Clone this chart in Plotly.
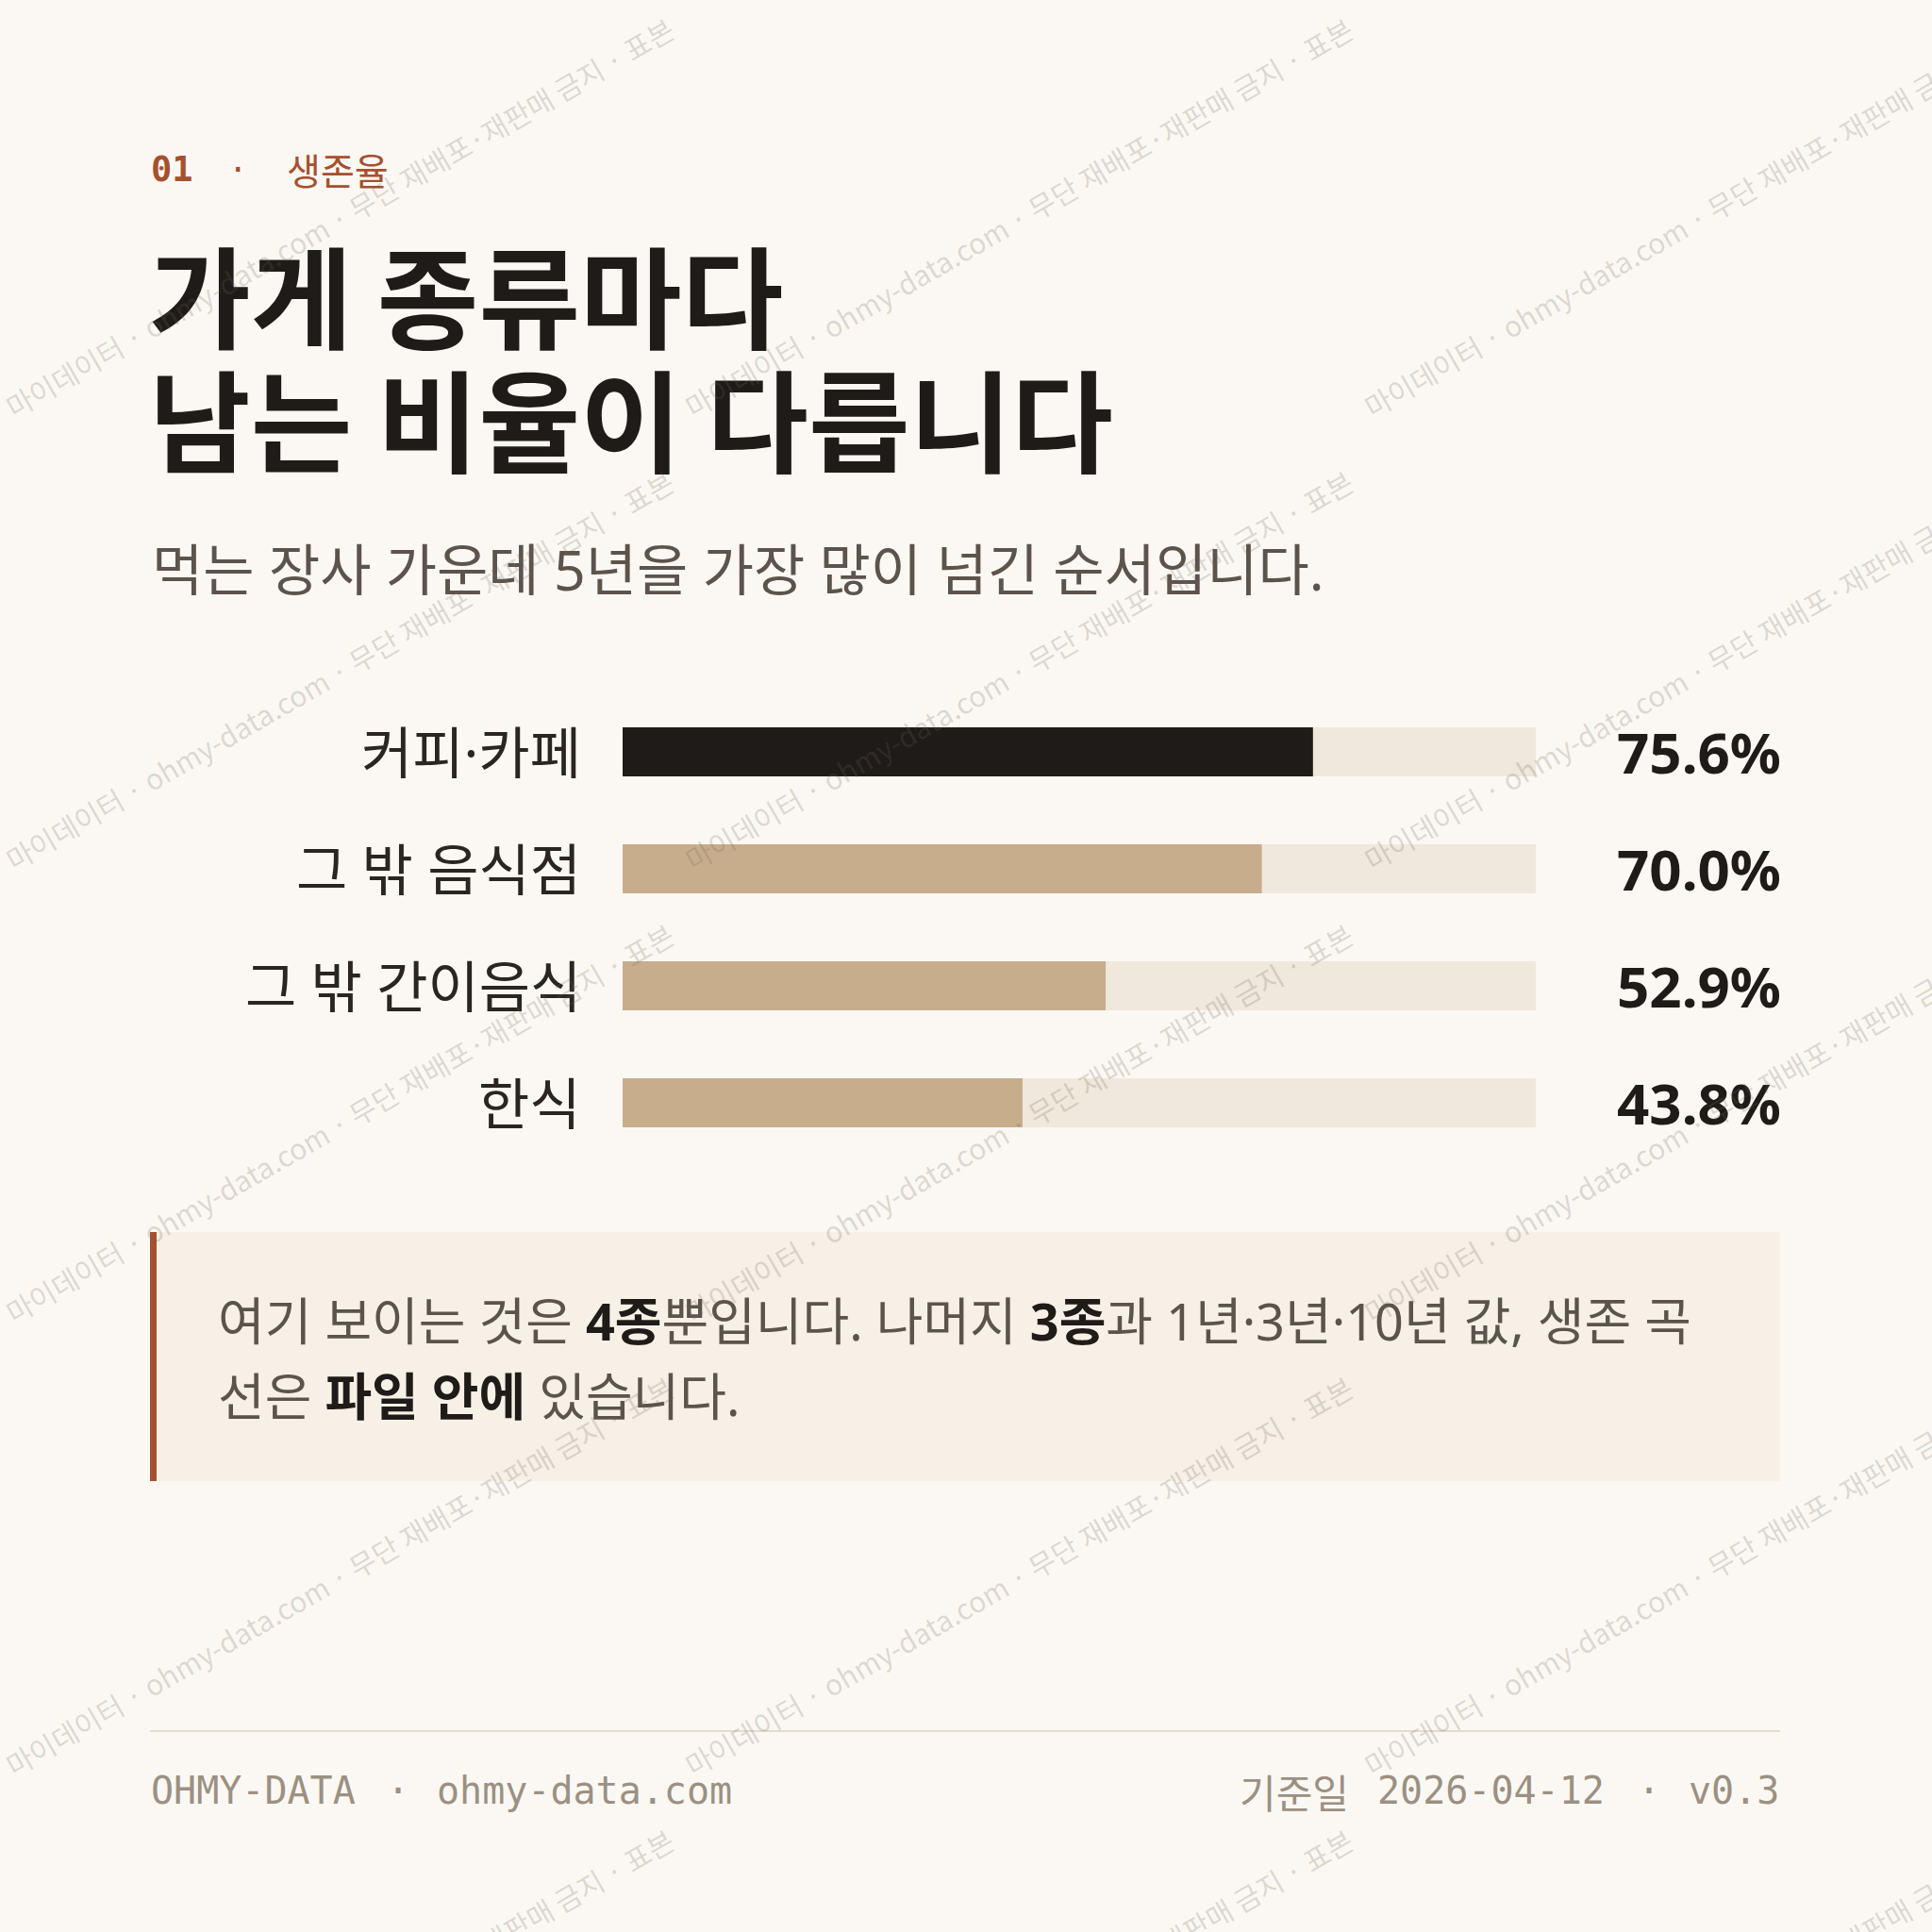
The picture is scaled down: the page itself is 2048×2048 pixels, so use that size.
import plotly.graph_objects as go

W = H = 2048

# ---------- data ----------
categories = ["커피·카페", "그 밖 음식점", "그 밖 간이음식", "한식"]
survival_5y = [75.6, 70.0, 52.9, 43.8]
scale_max = 100

eyebrow_num = "01"
eyebrow_txt = "생존율"
title_lines = ["가게 종류마다", "남는 비율이 다릅니다"]
subtitle = "먹는 장사 가운데 5년을 가장 많이 넘긴 순서입니다."
note_lines = [
    "여기 보이는 것은 {b}4종{e}뿐입니다. 나머지 {b}3종{e}과 1년·3년·10년 값, 생존 곡",
    "선은 {b}파일 안에{e} 있습니다.",
]
footer_left = ["OHMY-DATA", "·", "ohmy-data.com"]
footer_right = ["기준일", "2026-04-12", "·", "v0.3"]
watermark = "마이데이터 · ohmy-data.com · 무단 재배포·재판매 금지 · 표본"

# ---------- colours ----------
BG = "#fbf8f3"
DARK = "#1f1b18"
TAN = "#c8ad8c"
TRACK = "#f0e8dc"
RUST = "#a5502f"
SUB = "#5c544c"
MUTED = "#9b9082"
NOTE_BG = "#f6f0e6"
RULE = "#e3dccd"

KR = "Noto Sans CJK KR"
SANS = "Noto Sans, Noto Sans CJK KR"
MONO = "DejaVu Sans Mono, Noto Sans CJK KR"


def px(x):
    return x / W


def py(y):
    return 1 - y / H


fig = go.Figure()

# track + value bars
fig.add_bar(
    x=[scale_max] * len(categories), y=categories, orientation="h",
    marker=dict(color=TRACK, line_width=0), width=0.42, hoverinfo="skip",
)
fig.add_bar(
    x=survival_5y, y=categories, orientation="h",
    marker=dict(color=[DARK if i == 0 else TAN for i in range(len(categories))], line_width=0),
    width=0.42, hoverinfo="skip",
)

ann = []

# category labels and values
for c, v in zip(categories, survival_5y):
    ann.append(dict(x=px(618), y=c, xref="paper", yref="y", text=c,
                    xanchor="right", font=dict(family=SANS, size=59, color="#2a2521")))
    ann.append(dict(x=px(1890), y=c, xref="paper", yref="y", text=f"{v:.1f}%",
                    xanchor="right", font=dict(family=SANS, size=60, color=DARK, weight=700)))

# eyebrow
ann.append(dict(x=px(158), y=py(179), text=eyebrow_num, xanchor="left",
                font=dict(family=MONO, size=37, color=RUST, weight=700)))
ann.append(dict(x=px(252), y=py(179), text="·", xanchor="center",
                font=dict(family=MONO, size=34, color=RUST)))
ann.append(dict(x=px(302), y=py(179), text=eyebrow_txt, xanchor="left",
                font=dict(family=KR, size=39, color=RUST)))

# title
for i, t in enumerate(title_lines):
    ann.append(dict(x=px(156), y=py(310 + i * 131), text=t, xanchor="left",
                    font=dict(family=KR, size=117, color=DARK, weight=700)))

# subtitle
ann.append(dict(x=px(159), y=py(603), text=subtitle, xanchor="left",
                font=dict(family=SANS, size=59, color=SUB)))

# note
bold_open = f"<span style='color:{DARK}'><b>"
bold_close = "</b></span>"
for i, t in enumerate(note_lines):
    ann.append(dict(x=px(229), y=py(1400 + i * 80),
                    text=t.format(b=bold_open, e=bold_close), xanchor="left",
                    font=dict(family=SANS, size=54, color=SUB)))

# footer
foot_font = dict(family=MONO, size=40, color=MUTED)
ann.append(dict(x=px(158), y=py(1898), text=footer_left[0], xanchor="left", font=foot_font))
ann.append(dict(x=px(422), y=py(1898), text=footer_left[1], xanchor="center", font=foot_font))
ann.append(dict(x=px(461), y=py(1898), text=footer_left[2], xanchor="left", font=foot_font))
ann.append(dict(x=px(1432), y=py(1898), text=footer_right[0], xanchor="right",
                font=dict(family=KR, size=42, color=MUTED)))
ann.append(dict(x=px(1458), y=py(1898), text=footer_right[1], xanchor="left", font=foot_font))
ann.append(dict(x=px(1748), y=py(1898), text=footer_right[2], xanchor="center", font=foot_font))
ann.append(dict(x=px(1888), y=py(1898), text=footer_right[3], xanchor="right", font=foot_font))

# watermark tiles
for row in range(5):
    for col in range(3):
        ann.append(dict(x=px(360 + col * 720), y=py(230 + row * 480), text=watermark,
                        xanchor="center", textangle=-30,
                        font=dict(family=KR, size=30, color="rgba(110,100,90,0.22)")))

for a in ann:
    a.setdefault("xref", "paper")
    a.setdefault("yref", "paper")
    a.setdefault("showarrow", False)
    a.setdefault("yanchor", "middle")

shapes = [
    dict(type="rect", xref="paper", yref="paper", x0=px(159), x1=px(1887), y0=py(1570), y1=py(1306),
         fillcolor=NOTE_BG, line_width=0, layer="below"),
    dict(type="rect", xref="paper", yref="paper", x0=px(159), x1=px(166), y0=py(1570), y1=py(1306),
         fillcolor=RUST, line_width=0, layer="below"),
    dict(type="line", xref="paper", yref="paper", x0=px(159), x1=px(1887), y0=py(1835), y1=py(1835),
         line=dict(color=RULE, width=2)),
]

fig.update_layout(
    width=W, height=H, autosize=False,
    margin=dict(l=0, r=0, t=0, b=0),
    paper_bgcolor=BG, plot_bgcolor="rgba(0,0,0,0)",
    barmode="overlay", showlegend=False,
    xaxis=dict(domain=[px(660), px(1628)], range=[0, scale_max], visible=False, fixedrange=True),
    yaxis=dict(domain=[py(1231), py(735)], categoryorder="array", categoryarray=categories,
               range=[len(categories) - 0.5, -0.5], visible=False, fixedrange=True),
    annotations=ann, shapes=shapes,
)

fig.write_html("out.html", config={"displayModeBar": False},
               post_script="document.body.style.margin='0';")
